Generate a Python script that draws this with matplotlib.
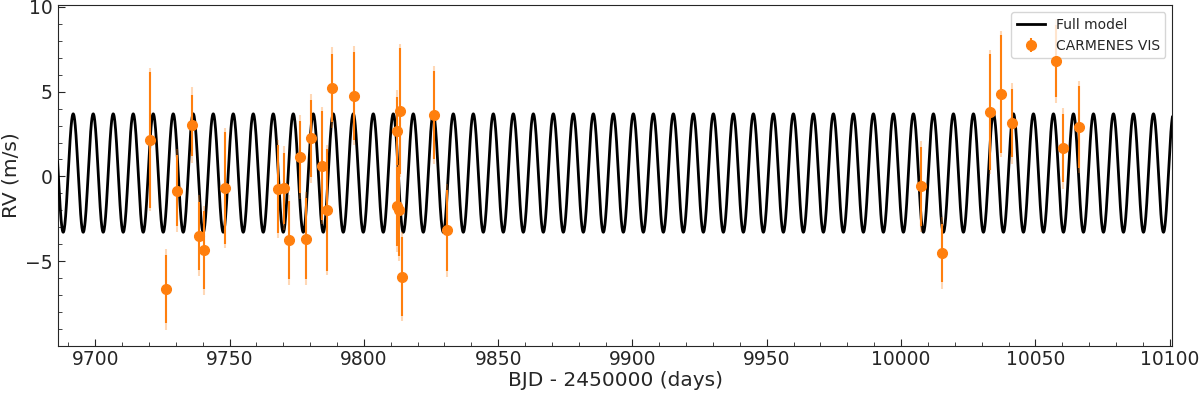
import numpy as np
import matplotlib.pyplot as plt
from matplotlib.ticker import MultipleLocator

# CARMENES VIS radial velocities
bjd = [9720.4, 9726.3, 9730.3, 9736.2, 9738.5, 9740.4, 9748.3,
       9768.1, 9770.2, 9772.2, 9776.2, 9778.3, 9780.3, 9784.4, 9786.3,
       9788.3, 9796.4, 9812.4, 9812.2, 9813.4, 9813.1, 9814.1, 9826.1,
       9831.0, 10007.3, 10015.3, 10033.2, 10037.3, 10041.2, 10057.5,
       10060.3, 10066.4]
rv = [2.16, -6.64, -0.83, 3.03, -3.50, -4.36, -0.70,
      -0.74, -0.70, -3.73, 1.14, -3.66, 2.24, 0.63, -1.96,
      5.23, 4.76, 2.69, -1.77, 3.86, -2.00, -5.90, 3.62,
      -3.18, -0.59, -4.52, 3.80, 4.86, 3.13, 6.80,
      1.67, 2.91]
rv_err = [4.0, 2.0, 2.1, 1.8, 2.0, 2.3, 3.3,
          2.6, 2.1, 2.3, 2.1, 2.4, 2.25, 3.2, 3.6,
          2.0, 2.6, 2.0, 2.35, 3.7, 2.7, 2.3, 2.6,
          2.4, 2.35, 1.7, 3.4, 3.5, 2.0, 2.1,
          2.0, 2.4]
jitter = 1.3

# sinusoidal model parameters
period = 7.447
t_peak = 9691.81
k_amp = 3.49
offset = 0.2

xlim = (9686, 10101)
ylim = (-9.97, 10.1)

bjd = np.array(bjd)
rv = np.array(rv)
rv_err = np.array(rv_err)

t_model = np.linspace(xlim[0], xlim[1], 6000)
rv_model = offset + k_amp * np.cos(2 * np.pi * (t_model - t_peak) / period)

text_col = '#262626'
orange = '#ff7f0e'

fig, ax = plt.subplots(figsize=(12, 3.94), dpi=100)
fig.subplots_adjust(left=0.048, right=0.977, bottom=0.123, top=0.987)

ax.plot(t_model, rv_model, color='black', lw=2, label='Full model', zorder=3)
ax.errorbar(bjd, rv, yerr=np.sqrt(rv_err**2 + jitter**2), fmt='none',
            ecolor=orange, elinewidth=1.5, alpha=0.3, zorder=4)
ax.errorbar(bjd, rv, yerr=rv_err, fmt='o', color=orange, ms=7,
            elinewidth=1.5, label='CARMENES VIS', zorder=5)

ax.set_xlim(*xlim)
ax.set_ylim(*ylim)
ax.xaxis.set_major_locator(MultipleLocator(50))
ax.xaxis.set_minor_locator(MultipleLocator(10))
ax.yaxis.set_major_locator(MultipleLocator(5))
ax.yaxis.set_minor_locator(MultipleLocator(1))
ax.tick_params(which='both', direction='in', colors=text_col, labelsize=13.5)
ax.tick_params(which='major', length=5)
ax.tick_params(which='minor', length=3)
for sp in ax.spines.values():
    sp.set_color(text_col)

ax.set_xlabel('BJD - 2450000 (days)', fontsize=14.5, color=text_col, labelpad=1)
ax.set_ylabel('RV (m/s)', fontsize=14.5, color=text_col)
ax.yaxis.set_label_coords(-0.033, 0.5)

leg = ax.legend(loc='upper right', fontsize=10)
for t in leg.get_texts():
    t.set_color(text_col)

fig.savefig('out.png', dpi=100)
